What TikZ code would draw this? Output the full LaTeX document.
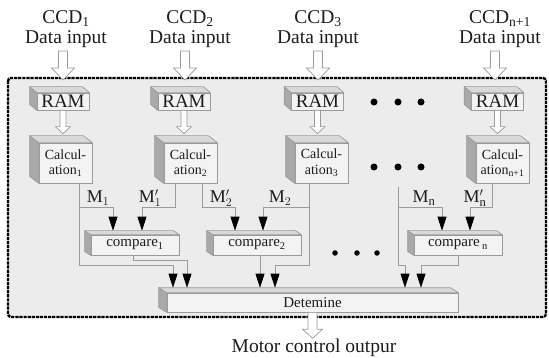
\documentclass[tikz,border=0pt]{standalone}
\usepackage{fontspec}
\setmainfont{Liberation Serif}
\usetikzlibrary{arrows.meta,calc}

\definecolor{panel}{HTML}{ECECEC}
\definecolor{facefront}{HTML}{F3F3F3}
\definecolor{facetop}{HTML}{D9D9D9}
\definecolor{faceside}{HTML}{A9A9A9}
\definecolor{edge}{HTML}{9A9A9A}
\definecolor{ink}{HTML}{1C1C1C}

\tikzset{
  front/.style={draw=edge, fill=facefront, line width=0.7pt, inner sep=0pt,
    text=ink, align=center},
  topface/.style={draw=edge, fill=facetop, line width=0.7pt, line join=round},
  sideface/.style={draw=edge, fill=faceside, line width=0.7pt, line join=round},
  wire/.style={draw=edge, line width=0.8pt},
  tip/.style={-{Triangle[width=9pt,length=14pt,color=black,fill=black]}},
  hollow/.style={draw=edge, fill=white, line width=0.7pt},
  lbl/.style={text=ink, inner sep=0pt, align=center},
  dotnode/.style={circle, fill=black, inner sep=0pt, minimum size=7pt},
  frame/.style={draw=black, fill=panel, line width=2.4pt,
    dash pattern=on 3.2pt off 0.9pt, rounded corners=3pt},
  ramfont/.style={font=\fontsize{19}{21}\selectfont},
  calcfont/.style={font=\fontsize{14}{15.5}\selectfont},
  cmpfont/.style={font=\fontsize{15}{17}\selectfont},
  bigfont/.style={font=\fontsize{19.5}{20}\selectfont},
  mfont/.style={font=\fontsize{18}{20}\selectfont},
}

% side and top faces of a block whose front face is the node #1
\newcommand\boxfaces[3]{%
  \path[sideface] (#1.north west) -- ++(-#2,-#3)
    -- ($(#1.south west)+(-#2,-#3)$) -- (#1.south west) -- cycle;
  \path[topface] (#1.north west) -- ++(-#2,-#3)
    -- ($(#1.north east)+(-#2,-#3)$) -- (#1.north east) -- cycle;
}

% hollow block arrow pointing down: tail, tip, half shaft, half head, head length
\newcommand\hollowarrow[5]{%
  \path[hollow] let \p1=(#1), \p2=(#2) in
    (\x1-#3,\y1) -- (\x1-#3,\y2+#5) -- (\x1-#4,\y2+#5) -- (\x1,\y2)
    -- (\x1+#4,\y2+#5) -- (\x1+#3,\y2+#5) -- (\x1+#3,\y1) -- cycle;
}

\begin{document}
\begin{tikzpicture}[x=1pt,y=-1pt]
\useasboundingbox (0,0) rectangle (549,358);

% processing board
\draw[frame] (8,78) rectangle (546,317);

% sensor inputs
\node[lbl,bigfont,anchor=south] (in1) at (66,48)  {CCD\textsubscript{1}\\Data input};
\node[lbl,bigfont,anchor=south] (in2) at (190,48) {CCD\textsubscript{2}\\Data input};
\node[lbl,bigfont,anchor=south] (in3) at (318,48) {CCD\textsubscript{3}\\Data input};
\node[lbl,bigfont,anchor=south] (in4) at (500,48) {CCD\textsubscript{n+1}\\Data input};
\coordinate (h1) at (63,80);
\coordinate (h2) at (185,80);
\coordinate (h3) at (318,80);
\coordinate (h4) at (495,80);
\hollowarrow{h1 |- 0,51}{h1}{4.5pt}{11.5pt}{12pt}
\hollowarrow{h2 |- 0,51}{h2}{4.5pt}{11.5pt}{12pt}
\hollowarrow{h3 |- 0,51}{h3}{4.5pt}{11.5pt}{12pt}
\hollowarrow{h4 |- 0,51}{h4}{4.5pt}{11.5pt}{12pt}

% buffers
\node[front,ramfont,minimum width=52pt,minimum height=17pt] (ram1) at (63,101.5) {RAM};
\node[front,ramfont,minimum width=52pt,minimum height=17pt] (ram2) at (184,101.5) {RAM};
\node[front,ramfont,minimum width=52pt,minimum height=17pt] (ram3) at (317.5,101.5) {RAM};
\node[front,ramfont,minimum width=52pt,minimum height=17pt] (ram4) at (497.5,101.5) {RAM};
\foreach \r in {ram1,ram2,ram3,ram4} {\boxfaces{\r}{7}{6}}

% calculation units
\node[front,calcfont,minimum width=53pt,minimum height=40pt] (calc1) at (65.5,163) {Calcul-\\ation\textsubscript{1}};
\node[front,calcfont,minimum width=53pt,minimum height=40pt] (calc2) at (190.5,163) {Calcul-\\ation\textsubscript{2}};
\node[front,calcfont,minimum width=53pt,minimum height=40pt] (calc3) at (321.5,163) {Calcul-\\ation\textsubscript{3}};
\node[front,calcfont,minimum width=53pt,minimum height=40pt] (calc4) at (502.5,163) {Calcul-\\ation\textsubscript{n+1}};
\foreach \c in {calc1,calc2,calc3,calc4} {\boxfaces{\c}{9}{7}}

\foreach \i in {1,2,3,4} {
  \coordinate (crim\i) at ($(calc\i.north)+(0,-9)$);
  \hollowarrow{ram\i.south}{ram\i.south |- crim\i}{3pt}{7.5pt}{7pt}
}

% omitted channels
\foreach \x [count=\k] in {374,398,421} {
  \node[dotnode] (da\k) at (\x,102) {};
  \node[dotnode] (db\k) at (\x,167) {};
}
\foreach \x [count=\k] in {335,357,377} {
  \node[dotnode,minimum size=5.5pt] (dc\k) at (\x,253) {};
}

% comparators
\node[front,cmpfont,minimum width=88pt,minimum height=20pt] (cmp1) at (135,245) {compare\textsubscript{1}};
\node[front,cmpfont,minimum width=88pt,minimum height=20pt] (cmp2) at (257,245) {compare\textsubscript{2}};
\node[front,cmpfont,minimum width=88pt,minimum height=20pt] (cmpn) at (458,245) {compare\,\textsubscript{n}};
\foreach \c in {cmp1,cmp2,cmpn} {\boxfaces{\c}{6}{4}}
\coordinate (r1) at ($(cmp1.north)+(0,-4)$);
\coordinate (r2) at ($(cmp2.north)+(0,-4)$);
\coordinate (rn) at ($(cmpn.north)+(0,-4)$);

% decision block
\node[front,cmpfont,minimum width=291pt,minimum height=19pt] (det) at (312.5,302.5) {Detemine};
\boxfaces{det}{8}{5}
\coordinate (dr) at ($(det.north)+(0,-5)$);

% measurement wires
\draw[wire,tip] (calc1.south -| 79,0) |- (173,265) -- (dr -| 173,0);
\draw[wire,tip] (79,207) -| (r1 -| 113,0);
\draw[wire,tip] (calc2.south -| 175,0) |- (142,207) -- (r1 -| 142,0);
\draw[wire,tip] (calc2.south -| 202,0) |- (235,207) -- (r2 -| 235,0);
\draw[wire,tip] (calc3.south -| 309,0) |- (275,265) -- (dr -| 275,0);
\draw[wire,tip] (309,207) -| (r2 -| 263,0);
\coordinate (mn) at (398,187);
\draw[wire,tip] (mn) |- (405,265) -- (dr -| 405,0);
\draw[wire,tip] (398,207) -| (rn -| 442,0);
\draw[wire,tip] (calc4.south -| 492,0) |- (470,207) -- (rn -| 470,0);

% comparator outputs
\draw[wire,tip] (cmp1.south -| 133,0) |- (187,260) -- (dr -| 187,0);
\draw[wire,tip] (cmp2.south -| 260,0) -- (dr -| 260,0);
\draw[wire,tip] (cmpn.south -| 458,0) |- (421,265) -- (dr -| 421,0);

% wire labels
\node[lbl,mfont] (lm1)  at (98,198)  {$\mathrm{M}_{1}$};
\node[lbl,mfont] (lm1p) at (150,198) {$\mathrm{M}_{1}'$};
\node[lbl,mfont] (lm2p) at (221,198) {$\mathrm{M}_{2}'$};
\node[lbl,mfont] (lm2)  at (280,198) {$\mathrm{M}_{2}$};
\node[lbl,mfont] (lmn)  at (424,198) {$\mathrm{M}_{\mathrm{n}}$};
\node[lbl,mfont] (lmnp) at (475,198) {$\mathrm{M}_{\mathrm{n}}'$};

% output
\node[lbl,bigfont,anchor=base] (out) at (314,352) {Motor control outpur};
\hollowarrow{det.south}{out.north -| det.south}{4.5pt}{10pt}{9pt}
\end{tikzpicture}
\end{document}
